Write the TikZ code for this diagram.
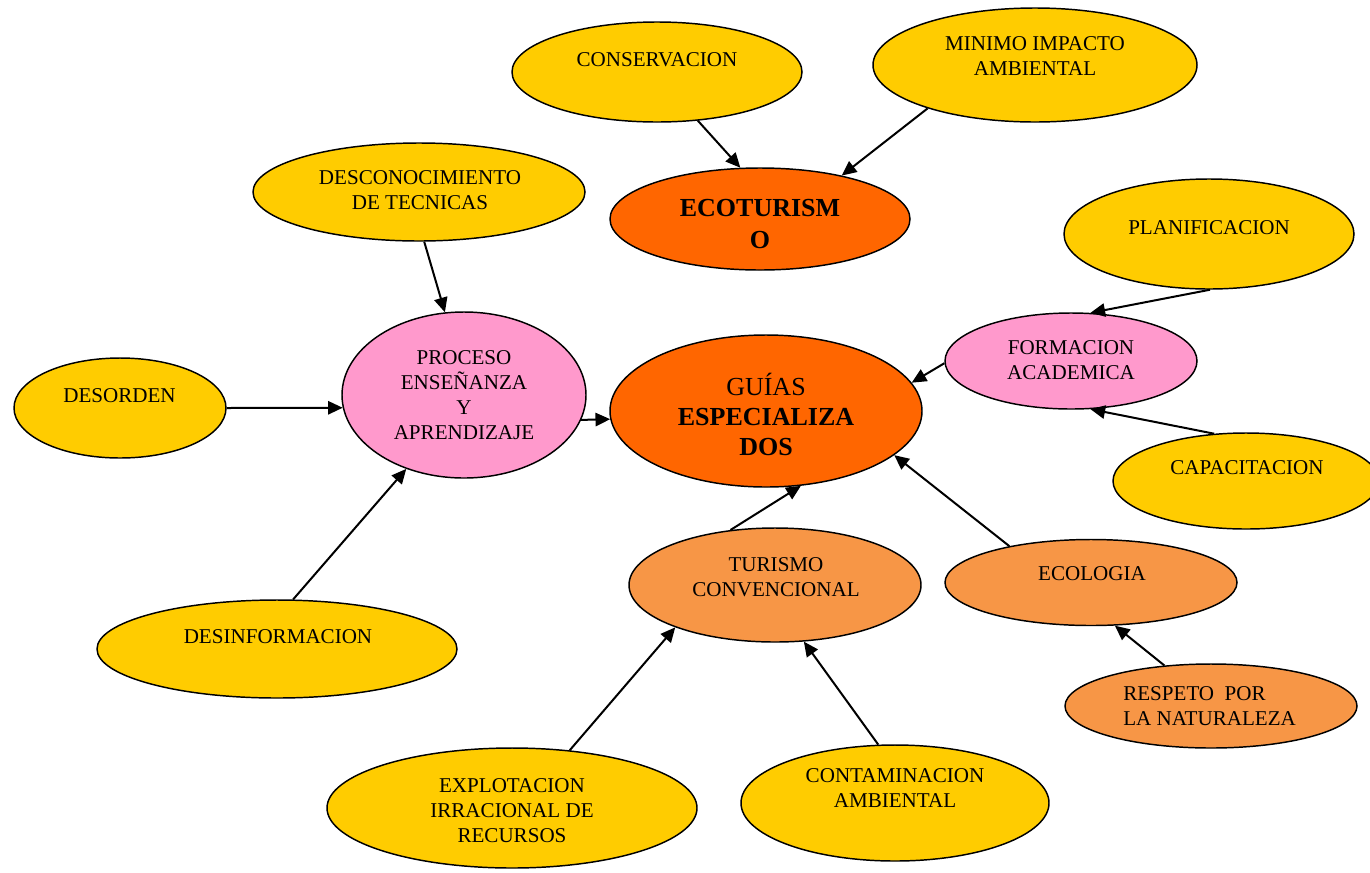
\documentclass[tikz,border=0pt]{standalone}
\usepackage{fontspec}
\setmainfont{Liberation Serif}
\usetikzlibrary{shapes.geometric,arrows.meta}
\definecolor{yel}{HTML}{FFCC00}
\definecolor{org}{HTML}{FF6600}
\definecolor{pnk}{HTML}{FF99CC}
\definecolor{lorg}{HTML}{F79646}
\begin{document}
\begin{tikzpicture}[x=0.75pt,y=-0.75pt,
 ell/.style={ellipse,draw=black,line width=1.1pt,inner sep=0pt},
 sz/.style 2 args={minimum width=#1*1.5pt,minimum height=#2*1.5pt},
 txt/.style={align=center,font=\fontsize{15.8}{18.75}\selectfont,inner sep=0pt},
 btxt/.style={align=center,font=\fontsize{19.5}{23}\selectfont\bfseries,inner sep=0pt},
 arr/.style={line width=1.5pt,-{Triangle[length=11pt,width=10pt]}}]
\useasboundingbox (0,0) rectangle (1370,872);
% ellipses
\node[ell,fill=yel,sz={145}{50}] (cons) at (657,72) {};
\node[ell,fill=yel,sz={162}{57}] (mini) at (1035,65) {};
\node[ell,fill=org,sz={150}{51}] (eco) at (760,219) {};
\node[ell,fill=yel,sz={166}{49}] (desc) at (419,192) {};
\node[ell,fill=yel,sz={145}{55}] (plan) at (1209,234) {};
\node[ell,fill=pnk,sz={126}{48}] (form) at (1071,361) {};
\node[ell,fill=pnk,sz={122}{83}] (proc) at (464,395) {};
\node[ell,fill=org,sz={156}{76}] (guia) at (766,411) {};
\node[ell,fill=yel,sz={106}{50}] (deso) at (120,408) {};
\node[ell,fill=yel,sz={133}{48}] (capa) at (1246,481) {};
\node[ell,fill=lorg,sz={146}{57}] (turi) at (775,585) {};
\node[ell,fill=lorg,sz={146}{43}] (ecol) at (1091,582.5) {};
\node[ell,fill=yel,sz={180}{49}] (desi) at (277,649) {};
\node[ell,fill=lorg,sz={146}{42}] (resp) at (1211,706) {};
\node[ell,fill=yel,sz={185}{60}] (expl) at (512,808) {};
\node[ell,fill=yel,sz={154}{58}] (cont) at (895,803) {};
% texts
\node[txt] (tcons) at (657,60) {CONSERVACION};
\node[txt] (tmini) at (1035,56.5) {MINIMO IMPACTO\\AMBIENTAL};
\node[btxt,font=\fontsize{19.5}{24}\selectfont\bfseries] (teco) at (760,224) {ECOTURISM\\O};
\node[txt] (tdesc) at (420,190.5) {DESCONOCIMIENTO\\DE TECNICAS};
\node[txt] (tplan) at (1209,228) {PLANIFICACION};
\node[txt] (tform) at (1071,360) {FORMACION\\ACADEMICA};
\node[txt] (tproc) at (464,395) {PROCESO\\ENSEÑANZA\\Y\\APRENDIZAJE};
\node[btxt,font=\fontsize{19.5}{22.5}\selectfont] (tguia) at (766,414) {GUÍAS\\\textbf{ESPECIALIZA}\\\textbf{DOS}};
\node[txt] (tdeso) at (119.5,396) {DESORDEN};
\node[txt] (tcapa) at (1247,468) {CAPACITACION};
\node[txt] (tturi) at (776,577.5) {TURISMO\\CONVENCIONAL};
\node[txt] (tecol) at (1092,574) {ECOLOGIA};
\node[txt] (tdesi) at (278,637) {DESINFORMACION};
\node[txt,align=left,anchor=west] (tresp) at (1123,706) {RESPETO\ \ POR\\LA NATURALEZA};
\node[txt] (texpl) at (512,811) {EXPLOTACION\\IRRACIONAL DE\\RECURSOS};
\node[txt] (tcont) at (895,788.5) {CONTAMINACION\\AMBIENTAL};
% arrows
\draw[arr] (cons.-50) -- (eco.111);
\draw[arr] (mini.202) -- (eco.28);
\draw[arr] (desc.-84) -- (proc.103);
\draw[arr] (deso.0) -- (proc.186);
\draw[arr] (desi.72) -- (proc.232);
\draw[arr] (proc.-12) -- (guia.183.5);
\draw[arr] (plan.-89) -- (form.68);
\draw[arr] (form.181) -- (guia.11);
\draw[arr] (capa.124.5) -- (form.-68);
\draw[arr] (turi.129) -- (guia.-65);
\draw[arr] (ecol.156) -- (guia.-19);
\draw[arr] (resp.139) -- (ecol.-61);
\draw[arr] (expl.45) -- (turi.203);
\draw[arr] (cont.106) -- (turi.-63.5);
\end{tikzpicture}
\end{document}
